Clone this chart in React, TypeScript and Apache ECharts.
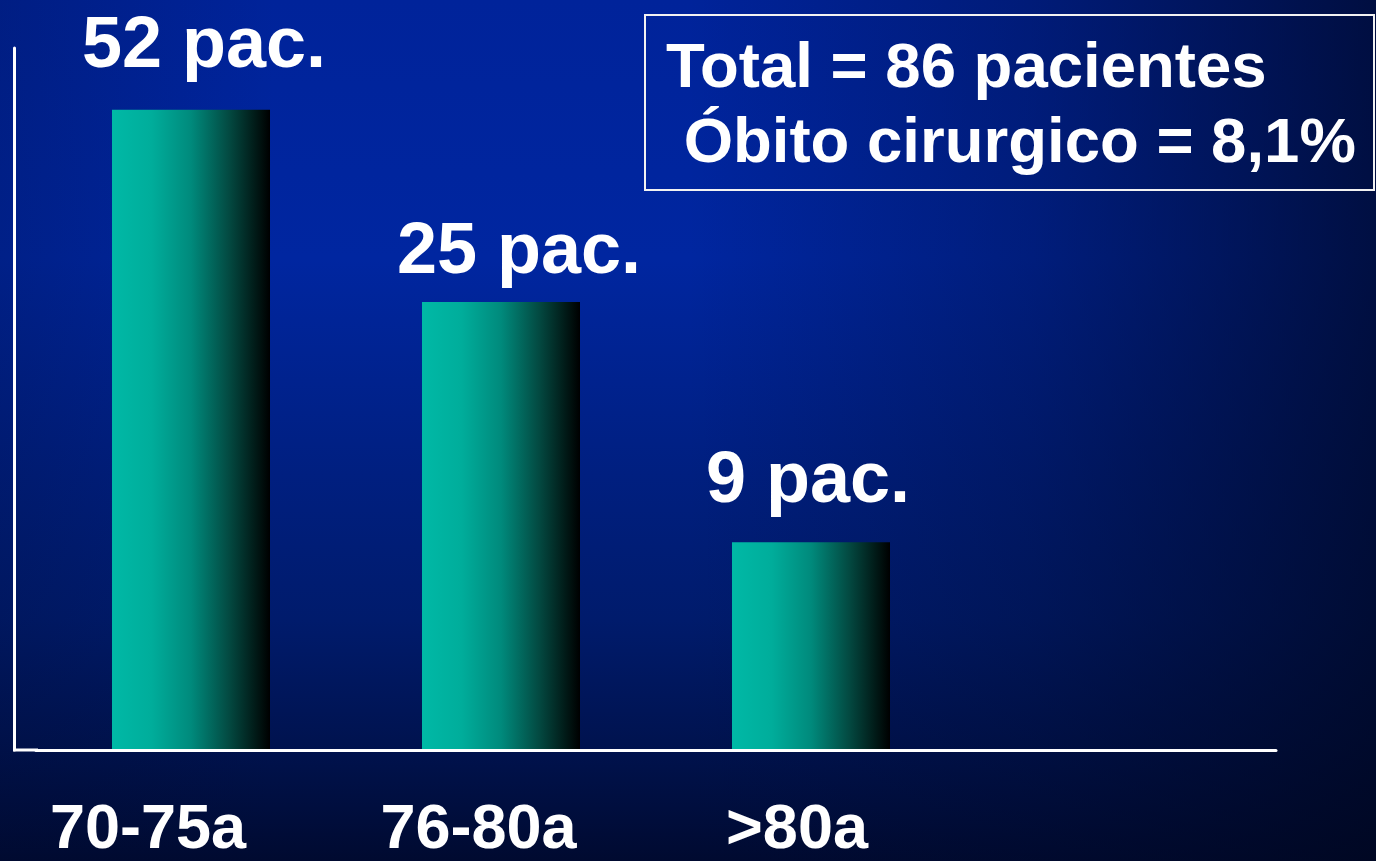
import React, { useEffect, useRef } from "react";
import * as echarts from "echarts";

// Categories (age groups); the 4th slot is the empty space at the right of the axis
const categories = ["70-75a", "76-80a", ">80a", ""];
// Patients per age group (shown as bar labels)
const patientCounts = [52, 25, 9];
// Bar heights as drawn on the slide (hidden 0–100 axis; the slide's bars are not to scale)
const barHeights = [91.2, 63.8, 29.6];
// Summary box
const totalPatients = 86;
const surgicalDeathRate = "8,1%";
const boxLines = [`Total = ${totalPatients} pacientes`, ` Óbito cirurgico = ${surgicalDeathRate}`];

// layout nudges (kept apart from data)
const valueLabelOffsets = [
  [13, -32],
  [18, -18],
  [-3, -29],
];
const axisLabelRightPad = [86, 45, 28, 0];

const FONT = '"Liberation Sans", Arial, Helvetica, sans-serif';

export default function App() {
  const ref = useRef<HTMLDivElement>(null);

  useEffect(() => {
    if (!ref.current) return;
    const chart = echarts.init(ref.current, null, { renderer: "svg" });

    const rich: Record<string, any> = {};
    axisLabelRightPad.forEach((p, i) => {
      rich["c" + i] = {
        color: "#ffffff",
        fontSize: 63,
        fontWeight: "bold",
        fontFamily: FONT,
        padding: [0, p, 0, 0],
      };
    });

    const barGradient = new echarts.graphic.LinearGradient(0, 0, 1, 0, [
      { offset: 0, color: "#00b9a6" },
      { offset: 0.25, color: "#00ad9b" },
      { offset: 0.5, color: "#008a7c" },
      { offset: 0.75, color: "#03473f" },
      { offset: 1, color: "#000000" },
    ]);

    const boxText = (text: string, y: number) => ({
      type: "text",
      z: 10,
      silent: true,
      x: 666,
      y,
      style: {
        text,
        fill: "#ffffff",
        font: `bold 63.5px ${FONT}`,
        verticalAlign: "middle",
        align: "left",
      },
    });

    chart.setOption({
      animation: false,
      backgroundColor: new echarts.graphic.LinearGradient(0, 0, 0, 1, [
        { offset: 0, color: "#00239a" },
        { offset: 0.3, color: "#0026a0" },
        { offset: 0.55, color: "#001f80" },
        { offset: 0.72, color: "#001b6c" },
        { offset: 0.86, color: "#001350" },
        { offset: 1, color: "#000a30" },
      ]),
      grid: { left: 36, right: 100, top: 48, bottom: 111, containLabel: false },
      graphic: [
        {
          type: "rect",
          z: -10,
          silent: true,
          shape: { x: 0, y: 0, width: 1376, height: 861 },
          style: {
            fill: new echarts.graphic.LinearGradient(0, 0, 1, 0, [
              { offset: 0, color: "rgba(0,10,50,0.22)" },
              { offset: 0.2, color: "rgba(0,10,50,0)" },
              { offset: 0.5, color: "rgba(0,10,50,0)" },
              { offset: 0.75, color: "rgba(0,8,40,0.3)" },
              { offset: 1, color: "rgba(0,6,30,0.72)" },
            ]),
          },
        },
        {
          type: "rect",
          z: 10,
          silent: true,
          shape: { x: 645, y: 15, width: 729, height: 175 },
          style: { fill: "none", stroke: "#f2f2f2", lineWidth: 2 },
        },
        boxText(boxLines[0], 65),
        boxText(boxLines[1], 140),
      ],
      xAxis: {
        type: "category",
        data: categories,
        boundaryGap: true,
        z: 5,
        axisLine: { show: true, lineStyle: { color: "#ffffff", width: 3 } },
        axisTick: { show: false },
        splitLine: { show: false },
        axisLabel: {
          interval: 0,
          margin: 44,
          color: "#ffffff",
          fontSize: 63,
          fontWeight: "bold",
          fontFamily: FONT,
          formatter: (v: string, i: number) => (v ? `{c${i}|${v}}` : ""),
          rich,
        },
      },
      yAxis: {
        type: "value",
        min: 0,
        max: 100,
        offset: 21.5,
        z: 5,
        axisLine: { show: true, lineStyle: { color: "#ffffff", width: 3 } },
        axisTick: { show: false },
        axisLabel: { show: false },
        splitLine: { show: false },
      },
      series: [
        {
          type: "bar",
          barWidth: 158,
          z: 2,
          itemStyle: { color: barGradient },
          label: {
            show: true,
            position: "top",
            distance: 0,
            color: "#ffffff",
            fontSize: 72,
            fontWeight: "bold",
            fontFamily: FONT,
            formatter: (p: any) => `${patientCounts[p.dataIndex]} pac.`,
          },
          data: barHeights.map((h, i) => ({
            value: h,
            label: { offset: valueLabelOffsets[i] },
          })),
        },
      ],
    });

    // extend the x-axis baseline left to meet the offset y-axis line
    const baseY = chart.convertToPixel({ yAxisIndex: 0 }, 0) as number;
    chart.setOption({
      graphic: [
        {
          id: "axisExt",
          type: "line",
          z: 10,
          silent: true,
          shape: { x1: 13, y1: baseY, x2: 38, y2: baseY },
          style: { stroke: "#ffffff", lineWidth: 3 },
        },
      ],
    });

    return () => chart.dispose();
  }, []);

  return (
    <div
      ref={ref}
      style={{ position: "fixed", left: 0, top: 0, width: 1376, height: 861 }}
    />
  );
}
